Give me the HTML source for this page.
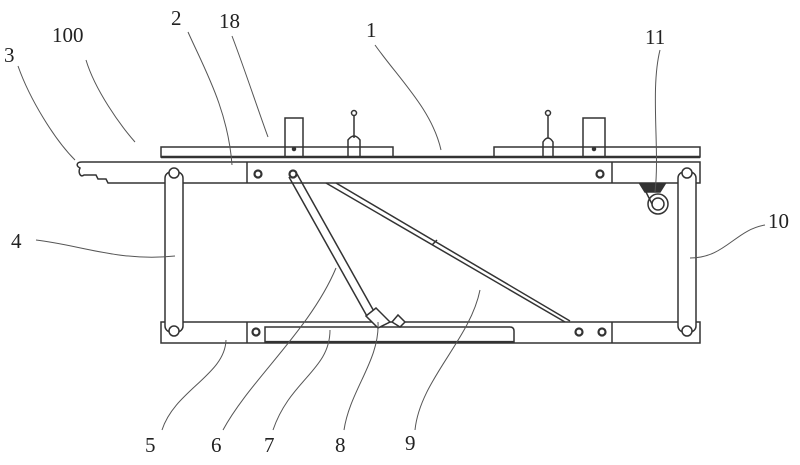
<!DOCTYPE html>
<html><head><style>
html,body{margin:0;padding:0;background:#fff;width:800px;height:465px;overflow:hidden}
svg{display:block}
text{font-family:"Liberation Serif",serif;font-size:21px;fill:#222}
</style></head><body>
<svg width="800" height="465" viewBox="0 0 800 465" xmlns="http://www.w3.org/2000/svg">
<g fill="none" stroke="#333" stroke-width="1.5">
<rect x="161" y="147" width="232" height="10"/>
<rect x="494" y="147" width="206" height="10"/>
<line x1="161" y1="157" x2="700" y2="157" stroke-width="2.4"/>
<path d="M161 162 L700 162 L700 183 L108 183 L106 179 L98 179 L96 175 L84 175 C80 178 78 172 80 168 C76 166 76 162 82 162 L161 162"/>
<line x1="247" y1="162" x2="247" y2="183"/>
<line x1="612" y1="162" x2="612" y2="183"/>
<rect x="161" y="322" width="539" height="21"/>
<line x1="247" y1="322" x2="247" y2="343"/>
<line x1="612" y1="322" x2="612" y2="343"/>
<path d="M265 343 L265 327 L510 327 Q514 327 514 331 L514 343" />
<line x1="265" y1="342" x2="514" y2="342" stroke-width="2.2"/>
<rect x="165" y="172" width="18" height="160" rx="6" fill="#fff"/>
<circle cx="174" cy="173" r="5" fill="#fff"/>
<circle cx="174" cy="331" r="5" fill="#fff"/>
<rect x="678" y="172" width="18" height="160" rx="6" fill="#fff"/>
<circle cx="687" cy="173" r="5" fill="#fff"/>
<circle cx="687" cy="331" r="5" fill="#fff"/>
<circle cx="258" cy="174" r="3.5" stroke-width="2.2"/>
<circle cx="293" cy="174" r="3.5" stroke-width="2.2"/>
<circle cx="600" cy="174" r="3.5" stroke-width="2.2"/>
<circle cx="256" cy="332" r="3.5" stroke-width="2.2"/>
<circle cx="579" cy="332" r="3.5" stroke-width="2.2"/>
<circle cx="602" cy="332" r="3.5" stroke-width="2.2"/>
<line x1="289" y1="177" x2="368" y2="318"/>
<line x1="297" y1="174" x2="376" y2="315"/>
<path d="M366 316 L376 308 L390 322 L378 328 Z" fill="#fff"/>
<path d="M392 322 L398 315 L405 322 L400 327 Z" fill="#fff"/>
<line x1="326" y1="183" x2="565" y2="322"/>
<line x1="336" y1="183" x2="570" y2="321"/>
<line x1="432" y1="245" x2="437" y2="240"/>
<rect x="285" y="118" width="18" height="39"/>
<circle cx="294" cy="149" r="1.5" fill="#333"/>
<rect x="583" y="118" width="22" height="39"/>
<circle cx="594" cy="149" r="1.5" fill="#333"/>
<line x1="354" y1="112" x2="354" y2="138"/>
<circle cx="354" cy="113" r="2.5" fill="#fff"/>
<path d="M348 157 L348 140 Q354 132 360 140 L360 157"/>
<line x1="548" y1="112" x2="548" y2="138"/>
<circle cx="548" cy="113" r="2.5" fill="#fff"/>
<path d="M543 157 L543 142 Q548 134 553 142 L553 157"/>
<path d="M640 184 L665 184 L660 192 L645 192 Z" fill="#333"/>
<circle cx="658" cy="204" r="10"/>
<circle cx="658" cy="204" r="6"/>
<path d="M646 192 L652 204"/>
</g>
<g fill="none" stroke="#555" stroke-width="1">
<path d="M18 66 C30 100 55 140 75 160"/>
<path d="M86 60 C95 90 120 125 135 142"/>
<path d="M188 32 C205 70 228 110 232 165"/>
<path d="M232 36 C245 70 258 110 268 137"/>
<path d="M375 45 C400 80 432 110 441 150"/>
<path d="M660 50 C650 90 660 150 655 192"/>
<path d="M36 240 C80 245 120 262 175 256"/>
<path d="M765 225 C735 230 725 258 690 258"/>
<path d="M162 430 C175 390 225 375 226 340"/>
<path d="M223 430 C250 380 310 330 336 268"/>
<path d="M273 430 C290 380 330 370 330 330"/>
<path d="M344 430 C350 390 380 360 378 322"/>
<path d="M415 430 C420 380 470 340 480 290"/>
</g>
<text x="4" y="62">3</text>
<text x="52" y="42">100</text>
<text x="171" y="25">2</text>
<text x="219" y="28">18</text>
<text x="366" y="37">1</text>
<text x="645" y="44">11</text>
<text x="11" y="248">4</text>
<text x="768" y="228">10</text>
<text x="145" y="452">5</text>
<text x="211" y="452">6</text>
<text x="264" y="452">7</text>
<text x="335" y="452">8</text>
<text x="405" y="450">9</text>
</svg>
</body></html>
